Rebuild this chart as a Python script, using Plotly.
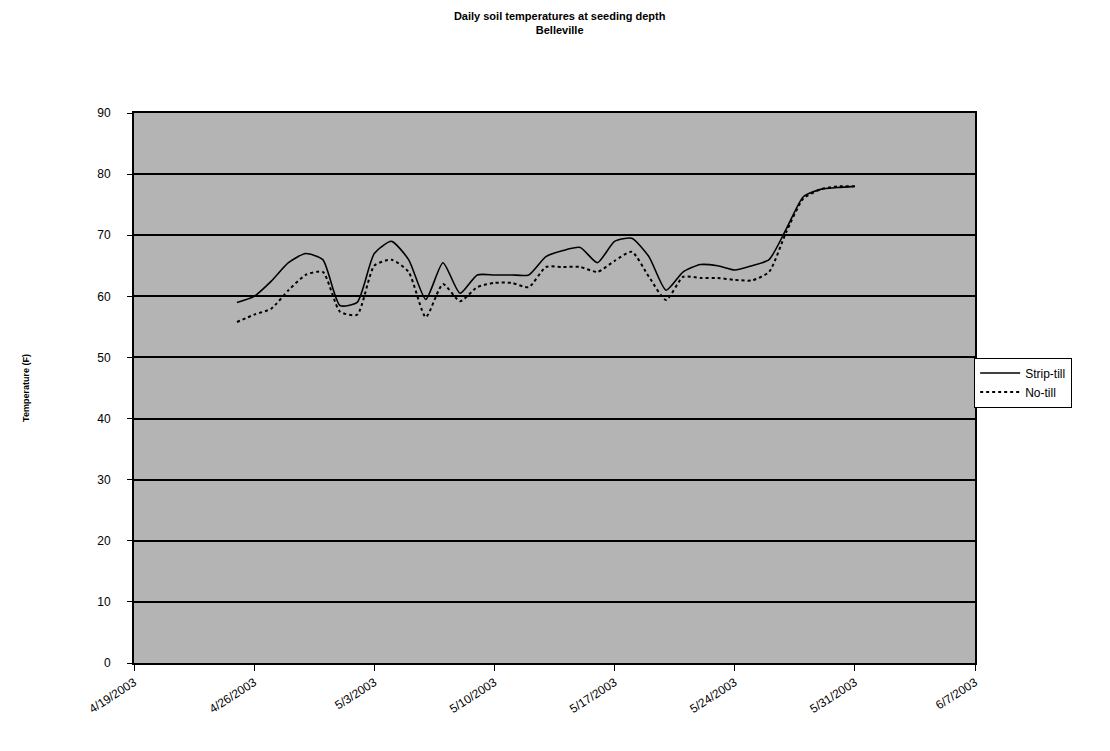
import plotly.graph_objects as go
import pandas as pd

dates = pd.date_range("2003-04-25", "2003-05-31", freq="D").strftime("%Y-%m-%d").tolist()

strip_till = [59, 60, 62.5, 65.5, 67, 66, 58.5, 59, 67, 69, 66, 59.5, 65.5, 60.5,
              63.5, 63.5, 63.5, 63.5, 66.5, 67.5, 68, 65.5, 69, 69.5, 66.5, 61,
              64, 65.2, 65, 64.3, 65, 66, 71, 76.3, 77.5, 77.8, 78]

no_till = [55.8, 57, 58, 61, 63.5, 64, 57.5, 57, 65, 66, 64, 56.6, 62, 59.2,
           61.5, 62.2, 62.2, 61.5, 64.8, 64.8, 64.8, 64, 65.8, 67.3, 63.2, 59.4,
           63.2, 63, 63, 62.7, 62.6, 64, 70.5, 76, 77.5, 78, 78]

x_ticks = pd.date_range("2003-04-19", "2003-06-07", freq="7D")
x_tick_vals = x_ticks.strftime("%Y-%m-%d").tolist()
x_tick_text = [f"{d.month}/{d.day}/{d.year}" for d in x_ticks]
y_ticks = [0, 10, 20, 30, 40, 50, 60, 70, 80, 90]

FONT = "Liberation Sans"

fig = go.Figure()
fig.add_trace(go.Scatter(
    x=dates, y=strip_till, name="Strip-till", mode="lines",
    line=dict(color="black", width=1.6, shape="spline", smoothing=0.6),
))
fig.add_trace(go.Scatter(
    x=dates, y=no_till, name="No-till", mode="lines",
    line=dict(color="black", width=2, dash="dot", shape="spline", smoothing=0.6),
))

fig.update_layout(
    width=1110, height=751,
    margin=dict(l=126, r=143, t=105, b=96),
    paper_bgcolor="white",
    plot_bgcolor="#b4b4b4",
    font=dict(family=FONT, size=11, color="black"),
    title=dict(
        text="<b>Daily soil temperatures at seeding depth</b><br><b>Belleville</b>",
        x=0.497, xanchor="center", y=0.984, yanchor="top",
        font=dict(family=FONT, size=11, color="black"),
    ),
    showlegend=True,
    legend=dict(
        x=0.999, xanchor="left", y=0.51, yanchor="middle",
        bgcolor="white", bordercolor="black", borderwidth=1,
        font=dict(family=FONT, size=12, color="black"),
        tracegroupgap=2, itemwidth=40,
    ),
    xaxis=dict(
        range=[x_tick_vals[0], x_tick_vals[-1]],
        tickmode="array", tickvals=x_tick_vals, ticktext=x_tick_text,
        tickangle=-33, ticks="outside", ticklen=6, tickcolor="black",
        showgrid=False, showline=True, linecolor="black", linewidth=2,
        mirror=True, zeroline=False,
        tickfont=dict(family=FONT, size=12, color="black"),
    ),
    yaxis=dict(
        range=[0, 90], tickmode="array", tickvals=y_ticks,
        ticks="outside", ticklen=5, tickcolor="black",
        ticklabelstandoff=14,
        showgrid=True, gridcolor="black", gridwidth=2,
        showline=True, linecolor="black", linewidth=2, mirror=True,
        zeroline=False,
        title=dict(text="<b>Temperature (F)</b>", standoff=66,
                   font=dict(family=FONT, size=9, color="black")),
        tickfont=dict(family=FONT, size=12, color="black"),
    ),
)

fig.write_html("out.html")
